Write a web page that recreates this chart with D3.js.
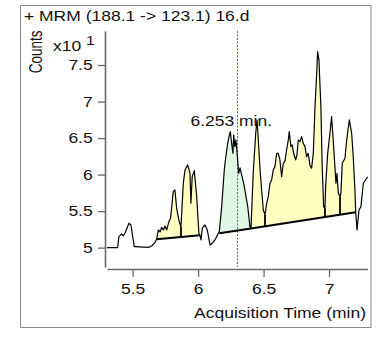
<!DOCTYPE html>
<html><head><meta charset="utf-8">
<script src="https://cdn.jsdelivr.net/npm/d3@7"></script>
<style>
body{margin:0;background:#fff}
svg{display:block}
text{font-family:"Liberation Sans",Arial,Helvetica,sans-serif;fill:#111}
</style>
</head><body>
<svg id="c" width="376" height="340"></svg>
<script>
// ---- data ----
const title = "+ MRM (188.1 -> 123.1) 16.d";
const yLabel = "Counts";
const xLabel = "Acquisition Time (min)";
const yMultiplier = "x10";
const yExponent = "1";
const xTicks = [5.5, 6, 6.5, 7];
const yTicks = [5, 5.5, 6, 6.5, 7, 7.5];
const times = [5.301,5.385,5.395,5.416,5.428,5.441,5.472,5.487,5.512,5.518,5.625,5.645,5.670,5.683,5.696,5.709,5.722,5.734,5.747,5.760,5.777,5.790,5.810,5.823,5.836,5.854,5.869,5.887,5.900,5.920,5.938,5.945,5.955,5.971,5.989,6.006,6.014,6.022,6.032,6.052,6.070,6.091,6.108,6.129,6.154,6.162,6.180,6.200,6.210,6.226,6.236,6.246,6.256,6.266,6.272,6.281,6.289,6.301,6.310,6.320,6.333,6.353,6.379,6.396,6.404,6.421,6.440,6.450,6.460,6.475,6.498,6.511,6.524,6.536,6.549,6.562,6.574,6.587,6.600,6.612,6.625,6.638,6.651,6.663,6.676,6.689,6.696,6.709,6.719,6.730,6.745,6.755,6.765,6.778,6.791,6.803,6.816,6.829,6.841,6.854,6.867,6.880,6.893,6.906,6.913,6.923,6.938,6.948,6.959,6.969,6.974,6.990,7.007,7.020,7.032,7.045,7.053,7.061,7.071,7.084,7.091,7.101,7.122,7.135,7.155,7.173,7.185,7.198,7.204,7.214,7.229,7.244,7.262,7.288,7.296];
const counts = [5.00,5.00,5.151,5.188,5.160,5.197,5.334,5.31,5.014,5.014,5.005,5.023,5.068,5.115,5.242,5.215,5.279,5.242,5.297,5.242,5.356,5.407,5.767,5.790,5.539,5.37,5.283,5.882,6.064,6.132,6.018,5.608,5.972,6.054,5.698,5.197,5.170,5.105,5.266,5.311,5.242,5.037,5.060,5.105,5.197,5.219,5.561,6.064,6.224,6.429,6.520,6.588,6.429,6.292,6.543,6.383,6.474,6.228,6.018,6.091,5.995,5.835,5.561,5.287,5.262,6.018,6.566,6.748,6.474,6.018,5.516,5.448,5.608,5.698,5.882,5.927,6.064,6.109,6.292,6.292,6.201,5.972,6.155,6.177,6.337,6.474,6.588,6.383,6.406,6.292,6.201,6.269,6.474,6.451,6.520,6.429,6.383,6.246,6.292,6.132,6.087,6.292,6.930,7.387,7.683,7.570,6.930,6.109,5.561,5.539,5.835,6.292,6.566,6.793,6.474,6.109,5.882,6.018,5.745,5.70,5.745,6.155,6.224,6.474,6.748,6.566,6.246,5.790,5.485,5.242,5.516,5.561,5.882,5.950,5.97];
// integrated peaks
const peakStart = [5.683, 6.162, 6.404];
const peakEnd = [6.014, 6.404, 7.204];
const peakBaseStart = [5.115, 5.196, 5.262];
const peakBaseEnd = [5.170, 5.262, 5.485];
const peakFill = ["#ffffc2", "#dff8e4", "#ffffc2"];
const peakSplits = [5.869, 6.511, 6.969, 7.084];
const rtTime = 6.253;
const rtText = "6.253 min.";
const markerTime = 6.301;

// ---- drawing ----
const svg = d3.select("#c");
const SX = 1.25; // horizontal stretch of glyphs
const x = d3.scaleLinear().domain([5.304, 7.294]).range([107, 367.5]);
const y = d3.scaleLinear().domain([4.735, 7.966]).range([267, 31]);

svg.append("rect").attr("x", 20.5).attr("y", 5.5).attr("width", 350.5).attr("height", 322)
  .attr("fill", "none").attr("stroke", "#8a8a8a").attr("stroke-width", 1);

function txt(px, py, s, anchor, size) {
  return svg.append("text").attr("transform", `translate(${px},${py}) scale(${SX},1)`)
    .attr("text-anchor", anchor).attr("font-size", size).text(s);
}
txt(24, 21, title, "start", 14);
txt(53, 51, yMultiplier, "start", 14);
txt(86, 45, yExponent, "start", 12.5);
txt(366, 318, xLabel, "end", 14);
svg.append("text").attr("transform", "translate(35,52) rotate(-90) scale(1,1.4)")
  .attr("text-anchor", "middle").attr("dy", "0.35em").attr("font-size", 13.5).text(yLabel);

// axes
const axisColor = "#6a6a6a";
const gy = svg.append("g").attr("transform", "translate(105,0)")
  .call(d3.axisLeft(y).tickValues(yTicks).tickSize(7).tickSizeOuter(0).tickFormat(d3.format("")));
const gx = svg.append("g").attr("transform", "translate(0,269)")
  .call(d3.axisBottom(x).tickValues(xTicks).tickSize(8).tickSizeOuter(0).tickPadding(7).tickFormat(d3.format("")));
[gy, gx].forEach(g => {
  g.select(".domain").attr("stroke", axisColor).attr("stroke-width", 1.6);
  g.selectAll(".tick line").attr("stroke", axisColor).attr("stroke-width", 1.3);
  g.selectAll("text").attr("font-size", 14).attr("fill", "#111")
    .attr("font-family", '"Liberation Sans",Arial,sans-serif');
});
gy.selectAll(".tick text").attr("x", null).attr("transform", `translate(-12.3,0) scale(${SX},1)`);
gx.selectAll(".tick text").attr("transform", `scale(${SX},1)`);

// clip
svg.append("clipPath").attr("id", "plot").append("rect")
  .attr("x", 107).attr("y", 31).attr("width", 261).attr("height", 236);
const plot = svg.append("g").attr("clip-path", "url(#plot)");

const pts = times.map((t, i) => ({ t, v: counts[i] }));
function baseAt(p, t) {
  return peakBaseStart[p] + (peakBaseEnd[p] - peakBaseStart[p]) * (t - peakStart[p]) / (peakEnd[p] - peakStart[p]);
}
// peak fills
peakStart.forEach((s, p) => {
  const seg = pts.filter(d => d.t >= s - 1e-9 && d.t <= peakEnd[p] + 1e-9);
  plot.append("path").datum(seg)
    .attr("d", d3.area().x(d => x(d.t)).y0(d => y(baseAt(p, d.t))).y1(d => y(d.v)))
    .attr("fill", peakFill[p]).attr("stroke", "none");
});
// marker line
plot.append("line").attr("x1", x(markerTime)).attr("x2", x(markerTime)).attr("y1", 31).attr("y2", 267)
  .attr("stroke", "#4848d0").attr("stroke-width", 0.9).attr("stroke-dasharray", "2,1.5");
// splits
peakSplits.forEach(t => {
  const p = peakStart.findIndex((s, i) => t >= s && t <= peakEnd[i]);
  const i = times.indexOf(t);
  plot.append("line").attr("x1", x(t)).attr("x2", x(t))
    .attr("y1", y(baseAt(p, t))).attr("y2", y(counts[i]))
    .attr("stroke", "#000").attr("stroke-width", 1.8);
});
// baselines
peakStart.forEach((s, p) => {
  plot.append("line").attr("x1", x(s)).attr("x2", x(peakEnd[p]))
    .attr("y1", y(peakBaseStart[p])).attr("y2", y(peakBaseEnd[p]))
    .attr("stroke", "#000").attr("stroke-width", 2);
});
// trace
plot.append("path").datum(pts)
  .attr("d", d3.line().x(d => x(d.t)).y(d => y(d.v)))
  .attr("fill", "none").attr("stroke", "#000").attr("stroke-width", 1.2).attr("stroke-linejoin", "round");

// RT label
const apex = d3.max(pts.filter(d => d.t >= peakStart[1] && d.t <= peakEnd[1]), d => d.v);
txt(x(rtTime), y(apex) - 6, rtText, "middle", 14);
</script>
</body></html>
